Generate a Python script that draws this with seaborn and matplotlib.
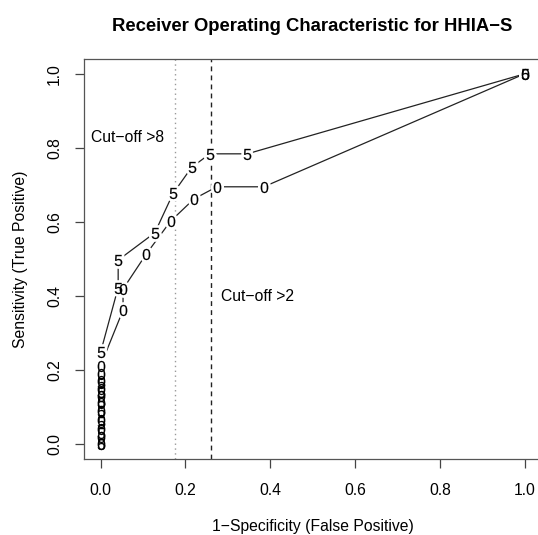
import numpy as np
import pandas as pd
import matplotlib
matplotlib.use("Agg")
import matplotlib.pyplot as plt
import seaborn as sns

# ROC points (1-specificity, sensitivity)
fpr_5 = [0.0, 0.0, 0.0, 0.0, 0.0, 0.0, 0.0, 0.0, 0.0415, 0.0415, 0.128, 0.171, 0.215, 0.258, 0.346, 1.0]
tpr_5 = [0.0, 0.03, 0.06, 0.09, 0.115, 0.14, 0.166, 0.248, 0.423, 0.497, 0.571, 0.677, 0.748, 0.784, 0.784, 1.0]
fpr_0 = [0.0, 0.0, 0.0, 0.0, 0.0, 0.0, 0.0, 0.0, 0.0, 0.0, 0.0, 0.053, 0.053, 0.108, 0.165, 0.22, 0.274, 0.385, 1.0]
tpr_0 = [0.0, 0.02, 0.04, 0.065, 0.09, 0.11, 0.13, 0.15, 0.17, 0.189, 0.212, 0.362, 0.419, 0.514, 0.602, 0.662, 0.695, 0.695, 1.0]

cutoff_8 = 0.1745
cutoff_2 = 0.261
ticks = [0.0, 0.2, 0.4, 0.6, 0.8, 1.0]
tick_labels = ["0.0", "0.2", "0.4", "0.6", "0.8", "1.0"]

sns.set_style("ticks")
plt.rcParams["font.family"] = ["Liberation Sans", "DejaVu Sans"]
plt.rcParams["mathtext.fontset"] = "custom"
plt.rcParams["mathtext.rm"] = "Liberation Sans"
plt.rcParams["text.color"] = "black"
plt.rcParams["axes.labelcolor"] = "black"
plt.rcParams["xtick.color"] = "#444444"
plt.rcParams["ytick.color"] = "#444444"
plt.rcParams["xtick.labelcolor"] = "black"
plt.rcParams["ytick.labelcolor"] = "black"

df5 = pd.DataFrame({"fpr": fpr_5, "tpr": tpr_5})
df0 = pd.DataFrame({"fpr": fpr_0, "tpr": tpr_0})

fig = plt.figure(figsize=(5.38, 5.35), dpi=100)
ax = fig.add_axes([0.1554, 0.1420, 0.8513, 0.7477])

sns.lineplot(data=df5, x="fpr", y="tpr", estimator=None, sort=False, color="#222222", lw=0.9, ax=ax)
sns.lineplot(data=df0, x="fpr", y="tpr", estimator=None, sort=False, color="#222222", lw=0.9, ax=ax)

# white halo so the lines stop short of the symbols, like R type="b"
for d, sym in [(df5, "5"), (df0, "0")]:
    ax.plot(d["fpr"], d["tpr"], ls="none", marker=r"$\mathregular{%s}$" % sym, ms=8,
            mfc="white", mec="white", mew=4, zorder=3)
for d, sym in [(df5, "5"), (df0, "0")]:
    ax.plot(d["fpr"], d["tpr"], ls="none", marker=r"$\mathregular{%s}$" % sym, ms=8,
            mfc="black", mec="black", mew=0.1, zorder=4)

ax.axvline(cutoff_8, color="#999999", ls=(0, (1, 2.5)), lw=1.0)
ax.axvline(cutoff_2, color="#222222", ls=(0, (3.5, 3)), lw=1.0)

ax.text(0.063, 0.828, "Cut\u2212off >8", ha="center", va="center", fontsize=11.3)
ax.text(0.37, 0.40, "Cut\u2212off >2", ha="center", va="center", fontsize=11.3)

ax.set_xlim(-0.04, 1.04)
ax.set_ylim(-0.04, 1.04)
ax.set_xticks(ticks)
ax.set_xticklabels(tick_labels)
ax.set_yticks(ticks)
ax.set_yticklabels(tick_labels, rotation=90, va="center")
ax.tick_params(axis="both", length=6.5, width=0.9, labelsize=11.3)
ax.tick_params(axis="x", pad=11)
ax.tick_params(axis="y", pad=9)
for s in ax.spines.values():
    s.set_visible(True)
    s.set_color("#555555")
    s.set_linewidth(0.9)

ax.set_xlabel("1\u2212Specificity (False Positive)", fontsize=11.3, labelpad=15)
ax.set_ylabel("Sensitivity (True Positive)", fontsize=11.3, labelpad=14)
ax.set_title("Receiver Operating Characteristic for HHIA\u2212S", fontsize=13.3, fontweight="bold", pad=20)

fig.savefig("out.png", dpi=100)
